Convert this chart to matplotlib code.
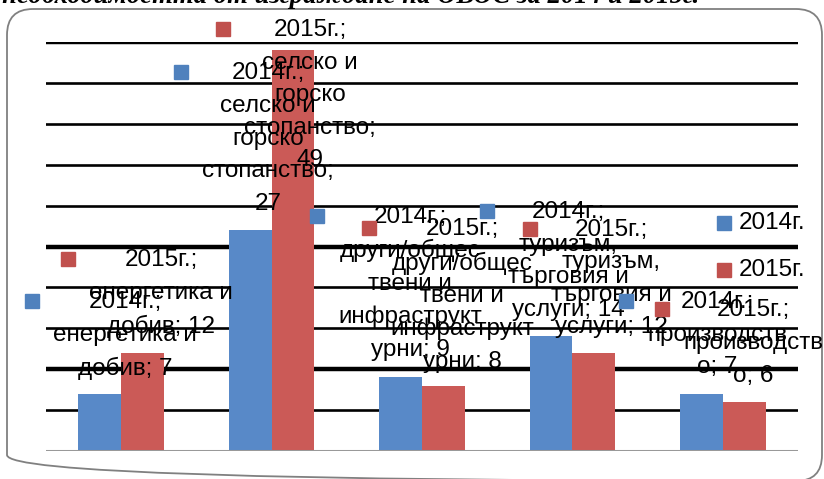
import matplotlib
matplotlib.use("Agg")
import matplotlib.pyplot as plt
from matplotlib.patches import FancyBboxPatch

# data
categories = ["енергетика и добив", "селско и горско стопанство",
              "други/обществени и инфраструктурни", "туризъм, търговия и услуги",
              "производство"]
# how Excel wrapped the category text inside the labels
wrapped = ["енергетика и\nдобив", "селско и\nгорско\nстопанство",
           "други/общес\nтвени и\nинфраструкт\nурни", "туризъм,\nтърговия и\nуслуги",
           "производств\nо"]
value_sep = ["; ", ";\n", "; ", "; ", "; "]
series = ["2014г.", "2015г."]
values_2014 = [7, 27, 9, 14, 7]
values_2015 = [12, 49, 8, 12, 6]
title = "необходимостта от изграждане на ОВОС за 2014 и 2015г."

# label block centres (data coords), one per bar, as placed in the original
label_pos_2014 = [(0.027, 14.1), (0.977, 38.2), (1.922, 20.5), (2.972, 23.2), (3.963, 14.2)]
label_pos_2015 = [(0.266, 19.2), (1.257, 43.5), (2.267, 19.0), (3.258, 21.1), (4.202, 13.2)]

bar_colors = ["#5889C8", "#CB5A57"]
key_colors = ["#4F81BD", "#C0504D"]
lab_font = ["Liberation Sans", "DejaVu Sans"]
W, H = 824, 479

fig = plt.figure(figsize=(W / 100, H / 100), dpi=100)

# background layer in pixel units for the frame and the clipped caption
bg = fig.add_axes([0, 0, 1, 1], zorder=0)
bg.set_xlim(0, W)
bg.set_ylim(H, 0)
bg.axis("off")
bg.add_patch(FancyBboxPatch((7, 9), 815, 472, boxstyle="round,pad=0,rounding_size=26",
                            fill=False, edgecolor="#808080", linewidth=1.3))
bg.text(2, 3, title, fontsize=19.3, fontweight="bold", fontstyle="italic",
        family="Liberation Serif", ha="left", va="baseline")

ax = fig.add_axes([46 / W, (H - 451) / H, 752 / W, 409 / H], zorder=1)
ax.patch.set_alpha(0)
x = list(range(len(categories)))
bw = 0.285
ax.bar([i - bw / 2 for i in x], values_2014, bw, color=bar_colors[0], zorder=2)
ax.bar([i + bw / 2 for i in x], values_2015, bw, color=bar_colors[1], zorder=2)

ax.set_xlim(-0.5, 4.5)
ax.set_ylim(0, 50)
for v in range(5, 55, 5):
    lw = 3.2 if v in (50, 25, 10) else 1.9
    ax.axhline(v, color="black", linewidth=lw, zorder=1)
ax.axhline(0, color="#999999", linewidth=2.2, zorder=3)
for s in ax.spines.values():
    s.set_visible(False)
ax.set_xticks([])
ax.set_yticks([])

# data labels with legend keys
texts = []
for k, (vals, pos) in enumerate([(values_2014, label_pos_2014), (values_2015, label_pos_2015)]):
    for i, v in enumerate(vals):
        s = f"{series[k]};\n{wrapped[i]}{value_sep[i]}{v}"
        t = ax.text(pos[i][0], pos[i][1], s, ha="center", va="center", multialignment="center",
                    fontsize=17.5, family=lab_font, linespacing=1.62, zorder=5, clip_on=False)
        texts.append((t, k))

fig.canvas.draw()
r = fig.canvas.get_renderer()
inv = ax.transData.inverted()
for t, k in texts:
    bb = t.get_window_extent(r)
    kx, ky = inv.transform((bb.x0 - 21, bb.y1 - 10))
    ax.plot([kx], [ky], marker="s", markersize=10, color=key_colors[k],
            linestyle="none", clip_on=False, zorder=6)

# legend
bleg = fig.add_axes([0, 0, 1, 1], zorder=2)
bleg.set_xlim(0, W)
bleg.set_ylim(H, 0)
bleg.axis("off")
for k in range(2):
    y = 223 if k == 0 else 270
    bleg.plot([724], [y], marker="s", markersize=10, color=key_colors[k], linestyle="none")
    bleg.text(739, y, series[k], fontsize=17.5, family=lab_font, ha="left", va="center")

fig.savefig("out.png", dpi=100)
